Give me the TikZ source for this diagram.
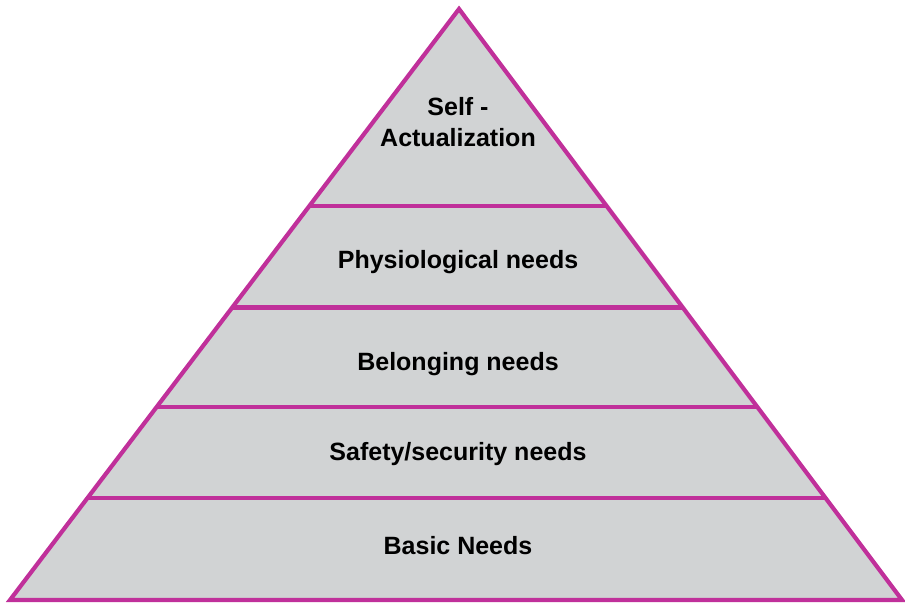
\documentclass[tikz,border=0pt]{standalone}
\usepackage{fontspec}
\setmainfont{Liberation Sans}
\usetikzlibrary{calc}
\definecolor{edge}{HTML}{C0309A}
\definecolor{body}{HTML}{D1D3D4}
\begin{document}
\begin{tikzpicture}[x=1pt,y=-1pt,
  outline/.style={draw=edge,line width=4.2pt,line join=miter},
  level/.style={draw=edge,line width=4.2pt},
  lbl/.style={font=\bfseries\fontsize{25}{31}\selectfont,align=center,text=black}]
\useasboundingbox (0,0) rectangle (905,603);
\coordinate (apex) at (459,9);
\coordinate (bl) at (10,600);
\coordinate (br) at (902,600);
\fill[body] (apex) -- (bl) -- (br) -- cycle;
\foreach \t/\n in {0.3328/a,0.5051/b,0.6740/c,0.8277/d}{
  \coordinate (l\n) at ($(apex)!\t!(bl)$);
  \coordinate (r\n) at ($(apex)!\t!(br)$);
  \draw[level] (l\n) -- (r\n);
}
\draw[outline] (apex) -- (bl) -- (br) -- cycle;
\node[lbl] (self) at (458,122) {Self -\\Actualization};
\node[lbl] (phys) at (458,262) {Physiological needs};
\node[lbl] (bel) at (458,364) {Belonging needs};
\node[lbl] (saf) at (458,454) {Safety/security needs};
\node[lbl] (bas) at (458,546) {Basic Needs};
\end{tikzpicture}
\end{document}
